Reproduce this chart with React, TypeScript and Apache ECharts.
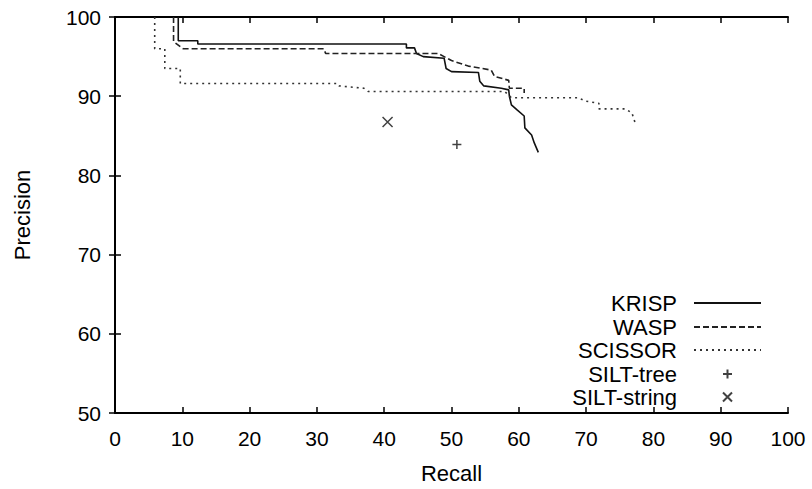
import React, { useEffect, useRef } from "react";
import * as echarts from "echarts";

const xTicks = [0, 10, 20, 30, 40, 50, 60, 70, 80, 90, 100];
const yTicks = [50, 60, 70, 80, 90, 100];

const krispRecall = [9.4, 9.4, 12.3, 12.3, 43.3, 43.3, 44.5, 44.8, 45.8, 48.9, 49.2, 50.0, 54.0, 54.2, 54.8, 57.4, 58.5, 58.6, 58.9, 59.7, 60.8, 60.9, 61.9, 62.3, 62.9];
const krispPrecision = [100, 97.0, 97.0, 96.6, 96.6, 96.1, 96.1, 95.4, 95.0, 94.8, 93.5, 93.1, 93.0, 91.9, 91.3, 91.0, 90.8, 90.0, 88.9, 88.3, 87.5, 86.0, 85.1, 84.1, 82.9];

const waspRecall = [8.7, 8.7, 10.1, 31.0, 31.3, 48.0, 48.9, 50.0, 52.5, 55.9, 56.4, 58.5, 58.6, 60.8, 60.8];
const waspPrecision = [100, 96.9, 96.0, 96.0, 95.4, 95.4, 95.0, 94.5, 93.8, 93.3, 92.5, 92.0, 91.0, 91.0, 90.4];

const scissorRecall = [5.9, 5.9, 7.4, 7.4, 9.7, 9.7, 33.1, 33.3, 37.0, 37.6, 57.9, 58.9, 68.9, 69.8, 71.9, 71.9, 75.8, 76.8, 77.3];
const scissorPrecision = [100, 96.0, 96.0, 93.5, 93.5, 91.6, 91.6, 91.3, 91.0, 90.6, 90.6, 89.8, 89.8, 89.4, 89.1, 88.4, 88.4, 87.9, 86.6];

const siltTreeRecall = [50.8];
const siltTreePrecision = [83.9];
const siltStringRecall = [40.5];
const siltStringPrecision = [86.75];

const seriesNames = ["KRISP", "WASP", "SCISSOR", "SILT-tree", "SILT-string"];

const zip = (a: number[], b: number[]) => a.map((v, i) => [v, b[i]]);

const PLUS = "path://M5 0 L5 10 M0 5 L10 5";
const CROSS = "path://M0 0 L10 10 M0 10 L10 0";

const FONT = "Liberation Sans";

export default function App() {
  const ref = useRef<HTMLDivElement>(null);
  useEffect(() => {
    if (!ref.current) return;
    const chart = echarts.init(ref.current, undefined, { renderer: "svg" });
    const axisLine = { show: true, lineStyle: { color: "#000", width: 2 } };
    const tick = { show: true, inside: true, length: 6, lineStyle: { color: "#000", width: 1.5 } };
    const legendRowsY = [303, 327, 350, 374, 397];
    const legends = seriesNames.map((name, i) => {
      const isLine = i < 3;
      const lg: any = {
        data: [name],
        orient: "vertical",
        right: isLine ? 50 : 79,
        top: legendRowsY[i] - 11,
        align: "right",
        padding: 0,
        itemWidth: 67,
        itemHeight: isLine ? 14 : 9,
        selectedMode: false,
        textStyle: { fontFamily: FONT, fontSize: 22, color: "#000", padding: [0, 12, 0, 0], lineHeight: 22 },
      };
      if (isLine) {
        lg.itemStyle = { color: "rgba(0,0,0,0)", borderColor: "rgba(0,0,0,0)", borderWidth: 0, opacity: 0 };
      }
      return lg;
    });
    chart.setOption({
      animation: false,
      backgroundColor: "#fff",
      grid: { left: 115, right: 24, top: 17, bottom: 71 },
      legend: legends,
      xAxis: [
        {
          type: "value",
          min: 0,
          max: 100,
          interval: 10,
          name: "Recall",
          nameLocation: "middle",
          nameGap: 49,
          nameTextStyle: { fontFamily: FONT, fontSize: 22, color: "#000" },
          axisLine,
          axisTick: tick,
          axisLabel: { fontFamily: FONT, fontSize: 21, color: "#000", margin: 15 },
          splitLine: { show: false },
        },
        {
          type: "value",
          position: "top",
          min: 0,
          max: 100,
          interval: 10,
          axisLine,
          axisTick: tick,
          axisLabel: { show: false },
          splitLine: { show: false },
        },
      ],
      yAxis: [
        {
          type: "value",
          min: 50,
          max: 100,
          interval: 10,
          name: "Precision",
          nameLocation: "middle",
          nameGap: 82,
          nameTextStyle: { fontFamily: FONT, fontSize: 22, color: "#000" },
          axisLine,
          axisTick: tick,
          axisLabel: { fontFamily: FONT, fontSize: 21, color: "#000", margin: 14 },
          splitLine: { show: false },
        },
        {
          type: "value",
          position: "right",
          min: 50,
          max: 100,
          interval: 10,
          axisLine,
          axisTick: tick,
          axisLabel: { show: false },
          splitLine: { show: false },
        },
      ],
      series: [
        {
          name: "KRISP",
          type: "line",
          data: zip(krispRecall, krispPrecision),
          symbol: "none",
          color: "#111",
          lineStyle: { color: "#111", width: 1.6, type: "solid" },
        },
        {
          name: "WASP",
          type: "line",
          data: zip(waspRecall, waspPrecision),
          symbol: "none",
          color: "#222",
          lineStyle: { color: "#222", width: 1.6, type: [6, 3] },
        },
        {
          name: "SCISSOR",
          type: "line",
          data: zip(scissorRecall, scissorPrecision),
          symbol: "none",
          color: "#333",
          lineStyle: { color: "#333", width: 1.6, type: [2, 4] },
        },
        {
          name: "SILT-tree",
          type: "scatter",
          data: zip(siltTreeRecall, siltTreePrecision),
          symbol: PLUS,
          symbolSize: 9,
          itemStyle: { color: "transparent", borderColor: "#111", borderWidth: 1.5 },
        },
        {
          name: "SILT-string",
          type: "scatter",
          data: zip(siltStringRecall, siltStringPrecision),
          symbol: CROSS,
          symbolSize: 10,
          itemStyle: { color: "transparent", borderColor: "#111", borderWidth: 1.5 },
        },
      ],
    });
    return () => chart.dispose();
  }, []);
  return (
    <div
      ref={ref}
      style={{ position: "fixed", left: 0, top: 0, width: 812, height: 489, background: "#fff" }}
    />
  );
}
